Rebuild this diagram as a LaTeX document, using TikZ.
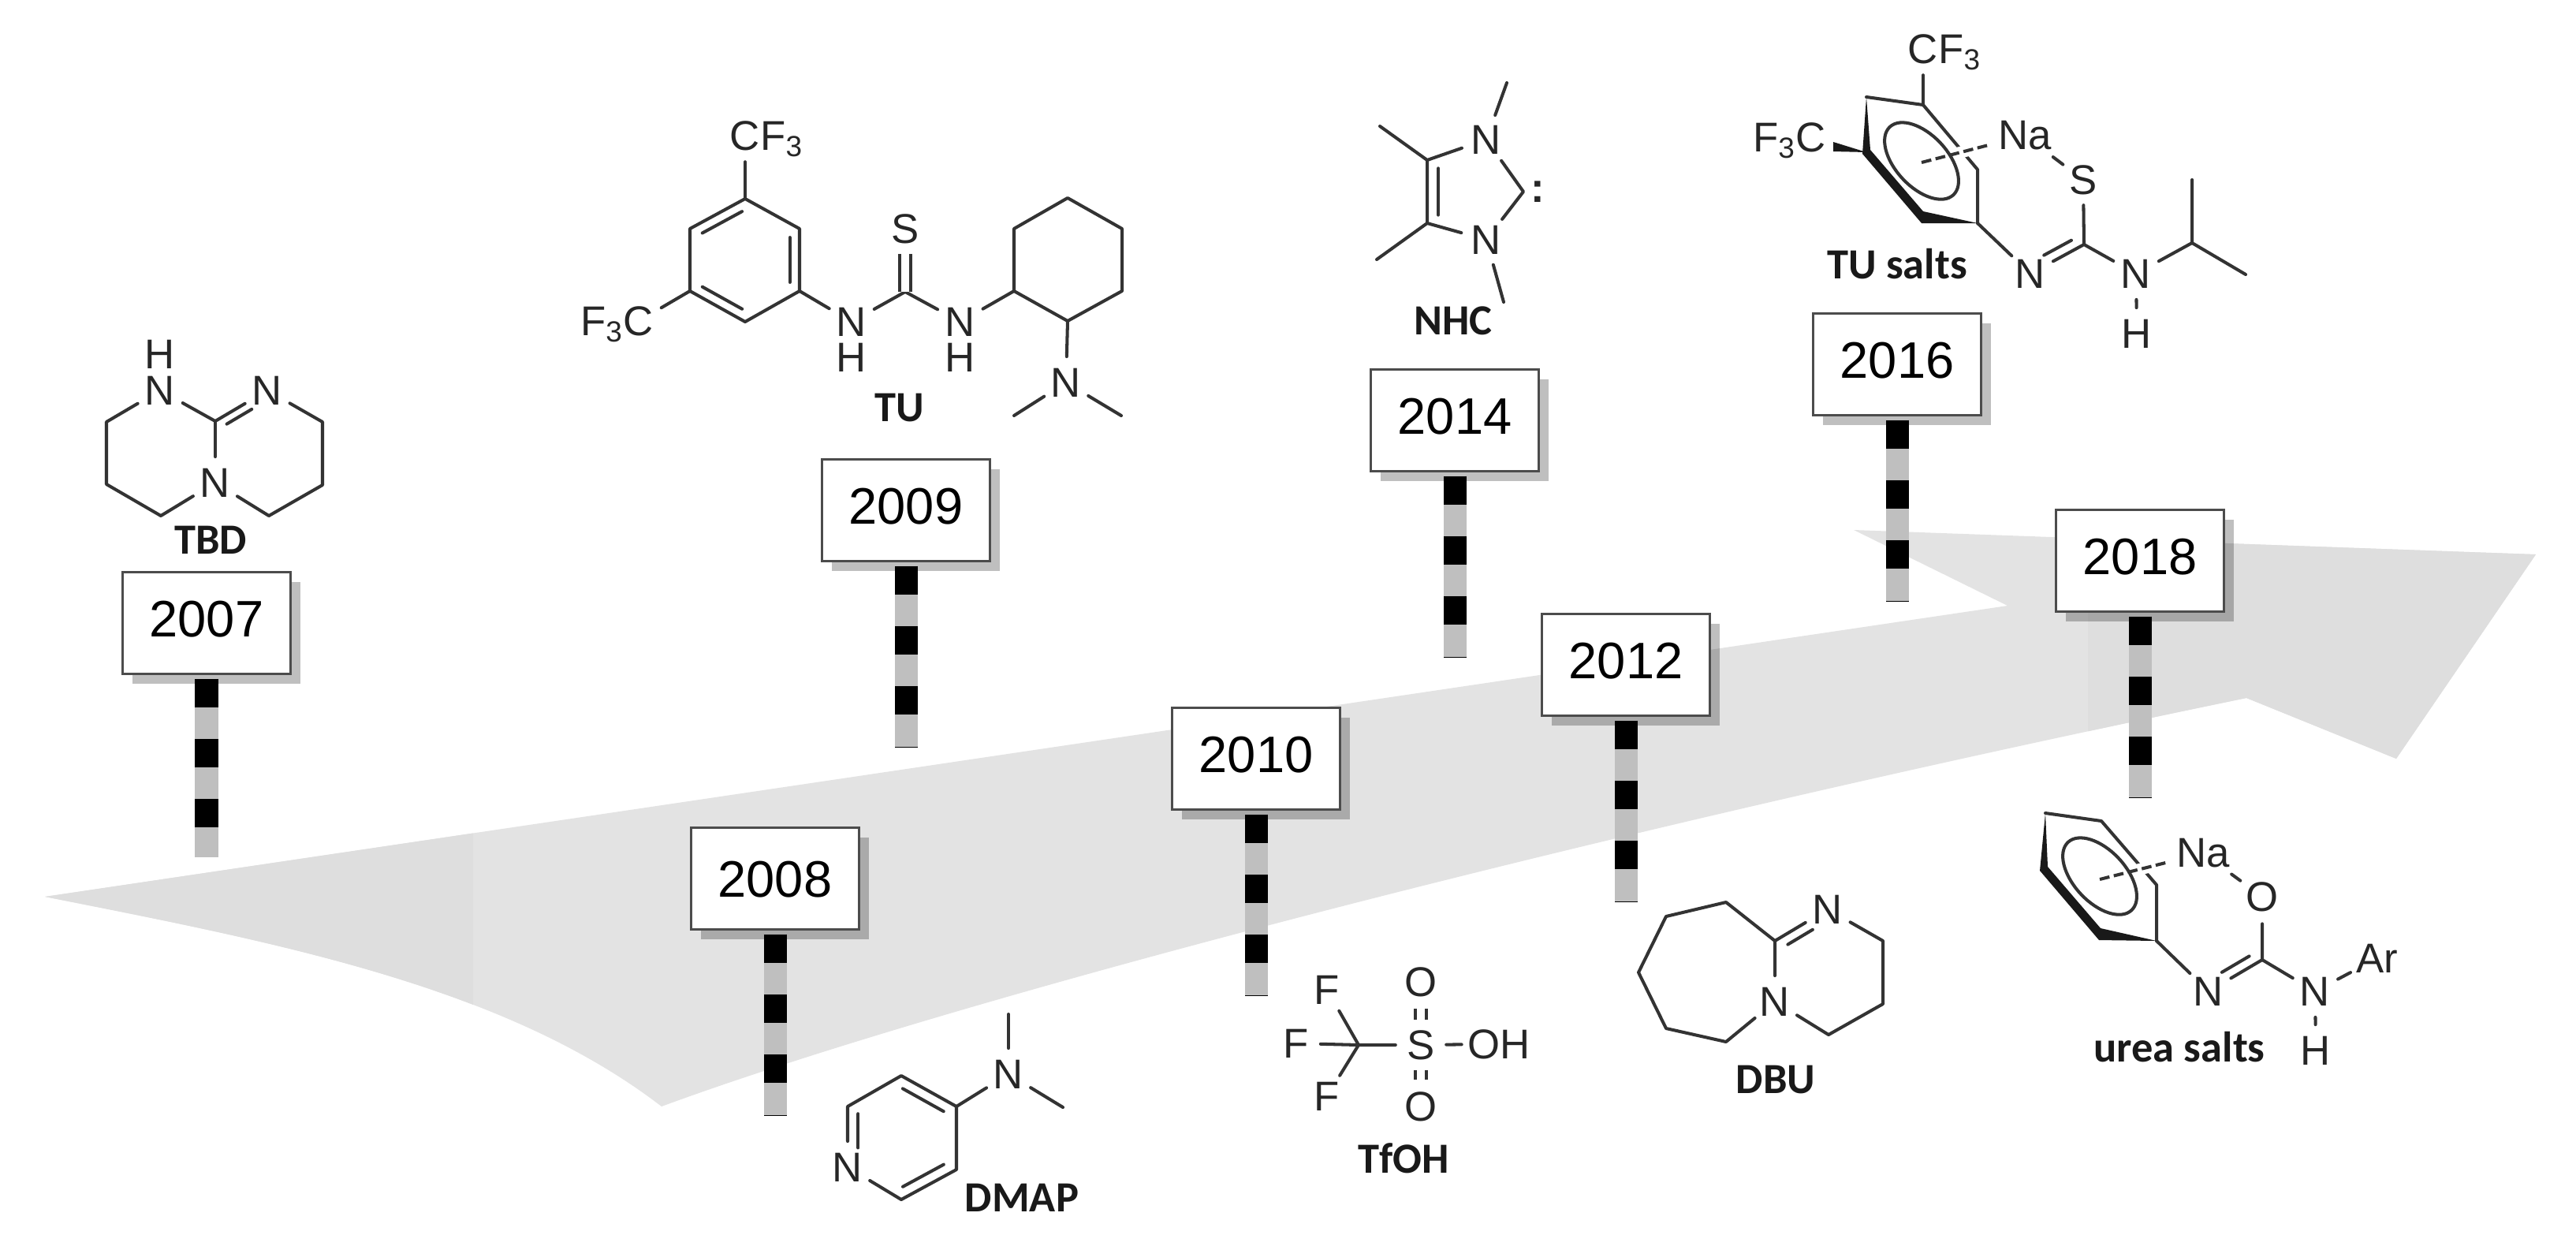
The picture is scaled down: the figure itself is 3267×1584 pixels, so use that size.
\documentclass[tikz,border=0pt]{standalone}
\usepackage{fontspec}
\setmainfont{Liberation Sans}
\newfontfamily\labelfont{Carlito}
\usetikzlibrary{calc,shadows}

\definecolor{bondgray}{gray}{0.2}
\definecolor{polegray}{gray}{0.75}
\definecolor{arrowlight}{gray}{0.89}
\definecolor{arrowdark}{gray}{0.87}

\tikzset{
    yearbox/.style={draw=black!70, fill=white, line width=1pt, inner sep=0pt,
        minimum width=60.5pt, minimum height=36.8pt, text height=13.1pt, text depth=3.4pt,
        font=\fontsize{18.5}{20}\selectfont,
        drop shadow={shadow xshift=3.6pt, shadow yshift=-3.6pt, fill=black, opacity=0.25}},
    pole/.style={draw=black, line width=8.25pt, dash pattern=on 10.2pt off 11.5pt,
        shorten <=1.2pt, preaction={draw=polegray, line width=8.25pt, solid}},
    atom/.style={circle, inner sep=1.2pt, text=black!85, font=\fontsize{15}{16}\selectfont},
    atomtext/.style={inner sep=0pt, text=black!85, font=\fontsize{15}{16}\selectfont},
    chemlabel/.style={inner sep=0pt, text=black!90, font=\labelfont\bfseries\fontsize{15.5}{16}\selectfont},
    bond/.style={draw=bondgray, line width=1.15pt, line join=round, line cap=round},
    dbond/.style={draw=bondgray, line width=1.15pt, double, double distance=2.6pt},
    wedgebond/.style={fill=black!90},
    nadash/.style={bond, line cap=butt, dash pattern=on 3.6pt off 1.6pt,
        preaction={draw=white, solid, line width=4.2pt}}
}

% inner line of a double bond
\newcommand{\innerbond}[5]{\draw[bond] ($(#1)!#3!(#2)!#5!90:(#2)$) -- ($(#1)!#4!(#2)!#5!90:(#2)$);}
\newcommand{\arrowshape}{(57,1137) -- (2546,768) -- (2351,672) -- (3216,703) -- (3039,962) -- (2849,885)
    .. controls (2000,1060) and (1200,1270) .. (839,1403)
    .. controls (640,1250) and (350,1195) .. (57,1137) -- cycle}

\begin{document}
\begin{tikzpicture}[x=0.01cm, y=-0.01cm]
    \useasboundingbox (0,0) rectangle (3267,1584);

    % big arrow
    \fill[arrowlight] \arrowshape;
    \begin{scope}
        \clip (0,600) rectangle (600,1450);
        \fill[arrowdark] \arrowshape;
    \end{scope}
    \begin{scope}
        \clip (2648,600) rectangle (3267,1100);
        \fill[arrowdark] \arrowshape;
    \end{scope}

    % years
    \node[yearbox] (y07) at (262,790) {2007};
    \node[yearbox, text depth=0pt] (y08) at (983,1114) {2008};
    \node[yearbox] (y09) at (1149,647) {2009};
    \node[yearbox] (y10) at (1593,962) {2010};
    \node[yearbox] (y12) at (2062,843) {2012};
    \node[yearbox] (y14) at (1845,533) {2014};
    \node[yearbox] (y16) at (2406,462) {2016};
    \node[yearbox] (y18) at (2714,711) {2018};

    % poles
    \coordinate (p07) at (262,1087);
    \coordinate (p08) at (983,1415);
    \coordinate (p09) at (1149,947);
    \coordinate (p10) at (1593,1262);
    \coordinate (p12) at (2062,1143);
    \coordinate (p14) at (1845,833);
    \coordinate (p16) at (2406,763);
    \coordinate (p18) at (2714,1011);
    \draw[pole] (y07) -- (p07);
    \draw[pole] (y08) -- (p08);
    \draw[pole] (y09) -- (p09);
    \draw[pole] (y10) -- (p10);
    \draw[pole] (y12) -- (p12);
    \draw[pole] (y14) -- (p14);
    \draw[pole] (y16) -- (p16);
    \draw[pole] (y18) -- (p18);

    % TBD
    \node[atom] (tbdn) at (203,495) {N};
    \node[atom] (tbdh) at (203,449) {H};
    \node[atom] (tbdm) at (339,495) {N};
    \node[atom] (tbdb) at (273,612) {N};
    \coordinate (tbdc) at (273,534);
    \coordinate (tbda) at (135,535);
    \coordinate (tbdd) at (135,614);
    \coordinate (tbde) at (204,654);
    \coordinate (tbdf) at (409,535);
    \coordinate (tbdg) at (409,615);
    \coordinate (tbdi) at (341,654);
    \draw[bond] (tbdn) -- (tbda) -- (tbdd) -- (tbde) -- (tbdb) -- (tbdi) -- (tbdg) -- (tbdf) -- (tbdm) -- (tbdc) -- (tbdn);
    \draw[bond] (tbdc) -- (tbdb);
    \innerbond{tbdc}{tbdm}{.14}{.62}{-3pt}
    \node[chemlabel] (tbdname) at (267,685) {TBD};

    % TU
    \node[atom] (tuca) at (945,172) {C};
    \node[atomtext, anchor=base west] (tufa) at ([xshift=5.3pt]tuca.base) {F\textsubscript{3}};
    \node[atom] (tucb) at (810,407) {C};
    \node[atomtext, anchor=base east] (tufb) at ([xshift=-5.3pt]tucb.base) {F\textsubscript{3}};
    \node[atom] (tun1) at (1080,408) {N};
    \node[atom] (tuh1) at (1080,453) {H};
    \node[atom] (tun2) at (1218,408) {N};
    \node[atom] (tuh2) at (1218,453) {H};
    \node[atom] (tus) at (1148,290) {S};
    \node[atom] (tun3) at (1352,485) {N};
    \coordinate (tur1) at (945,252);
    \coordinate (tur2) at (1014,290);
    \coordinate (tur3) at (1014,369);
    \coordinate (tur4) at (945,408);
    \coordinate (tur5) at (875,369);
    \coordinate (tur6) at (875,290);
    \coordinate (tuc) at (1148,370);
    \coordinate (tuy1) at (1286,290);
    \coordinate (tuy2) at (1286,369);
    \coordinate (tuy3) at (1354,407);
    \coordinate (tuy4) at (1423,369);
    \coordinate (tuy5) at (1423,290);
    \coordinate (tuy6) at (1354,251);
    \coordinate (tume1) at (1286,527);
    \coordinate (tume2) at (1422,527);
    \draw[bond] (tur1) -- (tur2) -- (tur3) -- (tur4) -- (tur5) -- (tur6) -- cycle;
    \innerbond{tur6}{tur1}{.14}{.86}{-3.5pt}
    \innerbond{tur2}{tur3}{.14}{.86}{-3.5pt}
    \innerbond{tur4}{tur5}{.14}{.86}{-3.5pt}
    \draw[bond] (tuca) -- (tur1);
    \draw[bond] (tucb) -- (tur5);
    \draw[bond] (tur3) -- (tun1) -- (tuc) -- (tun2) -- (tuy2);
    \draw[dbond] (tuc) -- (tus);
    \draw[bond] (tuy1) -- (tuy2) -- (tuy3) -- (tuy4) -- (tuy5) -- (tuy6) -- cycle;
    \draw[bond] (tuy3) -- (tun3);
    \draw[bond] (tun3) -- (tume1);
    \draw[bond] (tun3) -- (tume2);
    \node[chemlabel] (tuname) at (1141,517) {TU};

    % NHC
    \node[atom] (nhcn1) at (1885,177) {N};
    \node[atom] (nhcn2) at (1885,304) {N};
    \node[atomtext] (nhccolon) at (1950,243) {\bfseries :};
    \coordinate (nhca) at (1810,203);
    \coordinate (nhcb) at (1810,283);
    \coordinate (nhcc) at (1932,243);
    \coordinate (nhcm1) at (1911,105);
    \coordinate (nhcm2) at (1907,383);
    \coordinate (nhcm3) at (1750,160);
    \coordinate (nhcm4) at (1746,329);
    \draw[bond] (nhca) -- (nhcn1) -- (nhcc) -- (nhcn2) -- (nhcb) -- (nhca);
    \innerbond{nhca}{nhcb}{.13}{.87}{4pt}
    \draw[bond] (nhcn1) -- (nhcm1);
    \draw[bond] (nhcn2) -- (nhcm2);
    \draw[bond] (nhca) -- (nhcm3);
    \draw[bond] (nhcb) -- (nhcm4);
    \node[chemlabel] (nhcname) at (1843,407) {NHC};

    % TU salts
    \node[atom] (sca) at (2439,62) {C};
    \node[atomtext, anchor=base west] (sfa) at ([xshift=5.3pt]sca.base) {F\textsubscript{3}};
    \node[atom] (scb) at (2297,174) {C};
    \node[atomtext, anchor=base east] (sfb) at ([xshift=-5.3pt]scb.base) {F\textsubscript{3}};
    \node[atom] (sna) at (2568,172) {Na};
    \node[atom] (ss) at (2642,228) {S};
    \node[atom] (sn1) at (2575,347) {N};
    \node[atom] (sn2) at (2709,347) {N};
    \node[atom] (sh) at (2710,423) {H};
    \coordinate (sra) at (2439,133);
    \coordinate (srb) at (2367,123);
    \coordinate (src) at (2367,193);
    \coordinate (srd) at (2438,276);
    \coordinate (sre) at (2508,283);
    \coordinate (srf) at (2508,215);
    \coordinate (sctr) at (2437,206);
    \coordinate (sring) at (2437,204);
    \coordinate (scc) at (2643,310);
    \coordinate (sch) at (2780,308);
    \coordinate (sme1) at (2780,228);
    \coordinate (sme2) at (2848,348);
    \fill[wedgebond] (srb) -- ([shift={(5,-3)}]src) -- ([shift={(1,-8)}]srd) -- (sre) -- ([shift={(-1,7)}]srd) -- ([shift={(-5,2)}]src) -- cycle;
    \fill[wedgebond] (src) -- ([shift={(28,6)}]scb.center) -- ([shift={(28,18)}]scb.center) -- cycle;
    \draw[bond] (srb) -- (sra) -- (srf) -- (sre);
    \draw[bond] (sca) -- (sra);
    \draw[nadash] (sctr) -- (sna);
    \draw[bond, rotate around={-47:(sring)}] (sring) ellipse[x radius=59, y radius=33];
    \draw[bond] (sna) -- (ss);
    \draw[bond] (ss) -- (scc);
    \draw[bond] (sre) -- (sn1) -- (scc) -- (sn2) -- (sch) -- (sme1);
    \draw[bond] (sch) -- (sme2);
    \draw[bond] (sn2) -- (sh);
    \innerbond{scc}{sn1}{.15}{.66}{-3.5pt}
    \node[chemlabel] (sname) at (2406,335) {TU salts};

    % DMAP
    \node[atom] (dmn) at (1075,1480) {N};
    \node[atom] (dmm) at (1279,1362) {N};
    \coordinate (dma) at (1075,1403);
    \coordinate (dmb) at (1143,1364);
    \coordinate (dmc) at (1213,1403);
    \coordinate (dmd) at (1213,1483);
    \coordinate (dme) at (1143,1521);
    \coordinate (dmf) at (1279,1286);
    \coordinate (dmg) at (1348,1404);
    \draw[bond] (dmn) -- (dma) -- (dmb) -- (dmc) -- (dmd) -- (dme) -- (dmn);
    \innerbond{dma}{dmn}{.12}{.68}{3.8pt}
    \innerbond{dmb}{dmc}{.12}{.86}{-3.8pt}
    \innerbond{dmd}{dme}{.14}{.88}{-3.8pt}
    \draw[bond] (dmc) -- (dmm);
    \draw[bond] (dmm) -- (dmf);
    \draw[bond] (dmm) -- (dmg);
    \node[chemlabel] (dmname) at (1296,1519) {DMAP};

    % TfOH
    \node[atom] (tfs) at (1802,1325) {S};
    \node[atom] (tfo1) at (1802,1245) {O};
    \node[atom] (tfo2) at (1802,1403) {O};
    \node[atom, inner sep=0pt] (tfo3) at (1882,1324) {O};
    \node[atom] (tfh) at (1922,1324) {H};
    \node[atom] (tff1) at (1683,1255) {F};
    \node[atom] (tff2) at (1644,1323) {F};
    \node[atom] (tff3) at (1683,1390) {F};
    \coordinate (tfc) at (1723,1325);
    \draw[bond] (tfc) -- (tfs) -- (tfo3);
    \draw[dbond] (tfs) -- (tfo1);
    \draw[dbond] (tfs) -- (tfo2);
    \draw[bond] (tfc) -- (tff1);
    \draw[bond] (tfc) -- (tff2);
    \draw[bond] (tfc) -- (tff3);
    \node[chemlabel] (tfname) at (1780,1469) {TfOH};

    % DBU
    \node[atom] (dbt) at (2318,1153) {N};
    \node[atom] (dbb) at (2251,1270) {N};
    \coordinate (dbc) at (2251,1193);
    \coordinate (dbr1) at (2388,1193);
    \coordinate (dbr2) at (2388,1273);
    \coordinate (dbr3) at (2319,1312);
    \coordinate (dbs1) at (2189,1144);
    \coordinate (dbs2) at (2113,1162);
    \coordinate (dbs3) at (2078,1233);
    \coordinate (dbs4) at (2113,1304);
    \coordinate (dbs5) at (2189,1321);
    \draw[bond] (dbc) -- (dbs1) -- (dbs2) -- (dbs3) -- (dbs4) -- (dbs5) -- (dbb) -- (dbr3) -- (dbr2) -- (dbr1) -- (dbt) -- (dbc) -- (dbb);
    \innerbond{dbc}{dbt}{.15}{.62}{-3.5pt}
    \node[chemlabel] (dbname) at (2252,1369) {DBU};

    % urea salts
    \node[atom] (una) at (2794,1082) {Na};
    \node[atom] (uo) at (2869,1137) {O};
    \node[atom] (un1) at (2801,1257) {N};
    \node[atom] (un2) at (2936,1257) {N};
    \node[atom] (uh) at (2937,1332) {H};
    \node[atom] (uar) at (3015,1215) {Ar};
    \coordinate (ura) at (2665,1041);
    \coordinate (urb) at (2594,1031);
    \coordinate (urc) at (2592,1102);
    \coordinate (urd) at (2663,1185);
    \coordinate (ure) at (2735,1193);
    \coordinate (urf) at (2735,1122);
    \coordinate (uctr) at (2663,1115);
    \coordinate (uring) at (2663,1111);
    \coordinate (ucc) at (2869,1217);
    \fill[wedgebond] (urb) -- ([shift={(5,-3)}]urc) -- ([shift={(1,-8)}]urd) -- (ure) -- ([shift={(-1,7)}]urd) -- ([shift={(-5,2)}]urc) -- cycle;
    \draw[bond] (urb) -- (ura) -- (urf) -- (ure);
    \draw[nadash] (uctr) -- (una);
    \draw[bond, rotate around={-47:(uring)}] (uring) ellipse[x radius=59, y radius=33];
    \draw[bond] (una) -- (uo) -- (ucc);
    \draw[bond] (ure) -- (un1) -- (ucc) -- (un2) -- (uar);
    \draw[bond] (un2) -- (uh);
    \innerbond{ucc}{un1}{.15}{.66}{-3.5pt}
    \node[chemlabel] (uname) at (2764,1328) {urea salts};
\end{tikzpicture}
\end{document}
